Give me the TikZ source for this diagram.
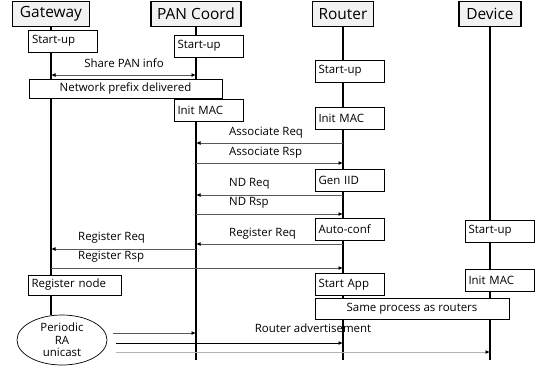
\documentclass[tikz,border=0pt]{standalone}
\usepackage{fontspec}
\setmainfont{Open Sans}
\usetikzlibrary{arrows.meta}
\usetikzlibrary{shapes.geometric}

\begin{document}
\begin{tikzpicture}[x=1bp, y=-1bp,
    >={Latex[length=4.5bp,width=4bp,color=black]},
    head/.style={draw, line width=1.4bp, fill=gray!10, minimum height=25bp,
        inner xsep=2bp, font=\fontsize{15.5}{17}\selectfont},
    stepbox/.style={draw, fill=white, line width=0.7bp, minimum height=22bp,
        text width=62bp, inner xsep=3.5bp, align=left,
        font=\fontsize{11.5}{13}\selectfont},
    widebox/.style={draw, fill=white, line width=0.7bp, inner sep=0pt,
        font=\fontsize{11.5}{13}\selectfont},
    life/.style={line width=1.5bp},
    msg/.style={draw=gray!70!black, line width=0.9bp, ->},
    lbl/.style={inner sep=0pt, font=\fontsize{11.5}{13}\selectfont}]

    \useasboundingbox (0,0) rectangle (543,374);

    % Headers
    \node[head, minimum width=77bp] (gw) at (51,14) {Gateway};
    \node[head, minimum width=90bp] (pan) at (196,14) {PAN Coord};
    \node[head, minimum width=61bp] (rt) at (343,14) {Router};
    \node[head, minimum width=62bp] (dev) at (490,14) {Device};

    % Periodic RA source
    \node[ellipse, draw, line width=0.7bp, minimum width=90bp, minimum height=50bp,
        inner sep=0pt, align=center, font=\fontsize{11.5}{12.5}\selectfont]
        (ra) at (62,340) {Periodic\\RA\\unicast};

    % Lifelines
    \coordinate (panEnd) at (pan |- 0,360);
    \coordinate (rtEnd) at (rt |- 0,360);
    \coordinate (devEnd) at (dev |- 0,360);
    \draw[life] (gw.south) -- (gw.south |- ra.north);
    \draw[life] (pan.south) -- (panEnd);
    \draw[life] (rt.south) -- (rtEnd);
    \draw[life] (dev.south) -- (devEnd);

    % Local steps
    \node[stepbox] (gwStart) at (63,41) {Start-up};
    \node[stepbox] (panStart) at (208.5,46) {Start-up};
    \node[widebox, minimum width=193bp, minimum height=19bp] (prefix) at (125.5,88.5) {Network prefix delivered};
    \node[stepbox] (panMac) at (208.5,110.5) {Init MAC};
    \node[stepbox] (rtStart) at (349.5,71) {Start-up};
    \node[stepbox] (rtMac) at (349.5,118) {Init MAC};
    \node[stepbox] (genIid) at (349.5,180) {Gen IID};
    \node[stepbox] (autoConf) at (349.5,229.5) {Auto-conf};
    \node[stepbox] (devStart) at (499.5,231) {Start-up};
    \node[stepbox, minimum height=20bp, text width=86bp] (regNode) at (74.5,285) {Register node};
    \node[stepbox] (startApp) at (349.5,284.5) {Start App};
    \node[stepbox] (devMac) at (499.5,280) {Init MAC};
    \node[widebox, minimum width=194bp, minimum height=21bp] (sameProc) at (412,308.5) {Same process as routers};

    % Gateway <-> PAN coordinator
    \draw[msg, <->] (gw |- 0,75) -- (pan |- 0,75);
    \node[lbl] (lShare) at (124,63) {Share PAN info};

    % Router joins the PAN
    \draw[msg] (rt |- 0,143) -- (pan |- 0,143);
    \node[lbl, anchor=west] (lAssocReq) at (229,133) {Associate Req};
    \draw[msg] (pan |- 0,163) -- (rt |- 0,163);
    \node[lbl, anchor=west] (lAssocRsp) at (229,153) {Associate Rsp};
    \draw[msg] (rt |- 0,195) -- (pan |- 0,195);
    \node[lbl, anchor=west] (lNdReq) at (229,184) {ND Req};
    \draw[msg] (pan |- 0,214) -- (rt |- 0,214);
    \node[lbl, anchor=west] (lNdRsp) at (229,203) {ND Rsp};

    % Registration
    \draw[msg] (rt |- 0,244) -- (pan |- 0,244);
    \node[lbl, anchor=west] (lRegReq) at (229,234) {Register Req};
    \draw[msg] (pan |- 0,249) -- (gw |- 0,249);
    \node[lbl, anchor=west] (lRegReqGw) at (78,238) {Register Req};
    \draw[msg] (gw |- 0,268) -- (rt |- 0,268);
    \node[lbl, anchor=west] (lRegRsp) at (78,257) {Register Rsp};

    % Router advertisement
    \coordinate (raA) at (113,333);
    \coordinate (raB) at (116,343);
    \coordinate (raC) at (116,352);
    \draw[msg] (raA) -- (pan |- raA);
    \draw[msg, draw=black] (raB) -- (rt |- raB);
    \draw[msg, draw=gray!60] (raC) -- (dev |- raC);
    \node[lbl] (lRa) at (313,328) {Router advertisement};
\end{tikzpicture}
\end{document}
